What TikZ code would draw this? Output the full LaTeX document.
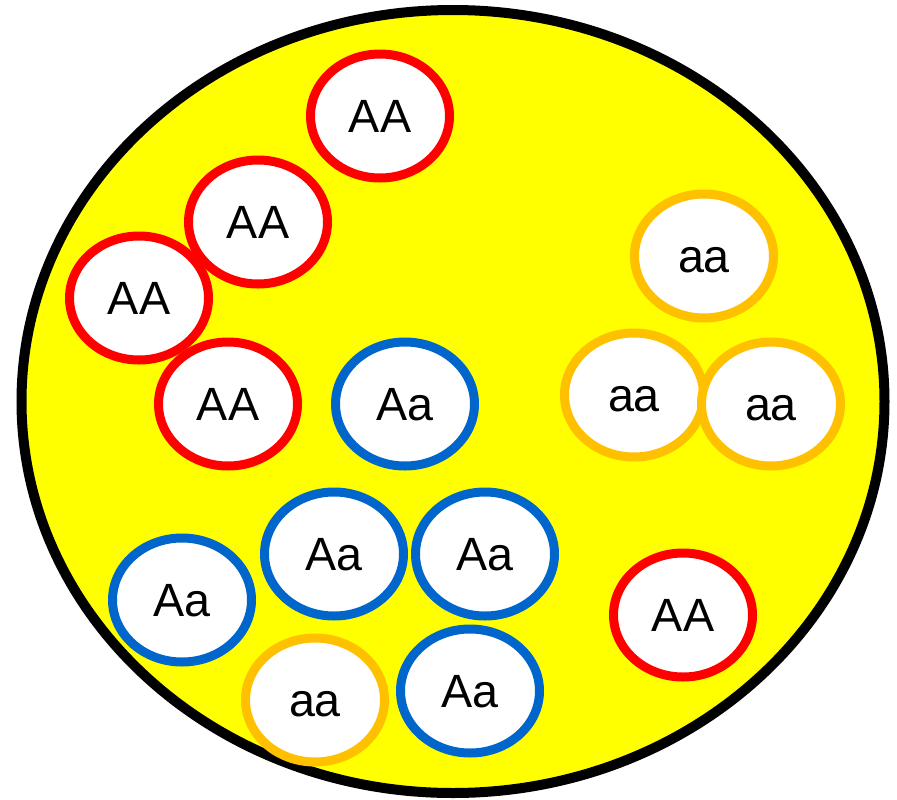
\documentclass[tikz,border=0pt]{standalone}
\usepackage{fontspec}
\setmainfont{Liberation Sans}
\usetikzlibrary{shapes.geometric}
\definecolor{cellred}{HTML}{FF0000}
\definecolor{cellblue}{HTML}{0066CC}
\definecolor{cellorange}{HTML}{FFC000}
\definecolor{pondyellow}{HTML}{FFFF00}
\tikzset{
  pool/.style={ellipse, draw=black, fill=pondyellow, line width=7.5pt,
    minimum width=647.25pt, minimum height=587.25pt, inner sep=0pt},
  cell/.style={ellipse, draw=#1, fill=white, line width=6.75pt,
    minimum width=104.25pt, minimum height=93pt, inner sep=0pt,
    text height=25pt, text depth=0pt,
    font=\fontsize{35}{40}\selectfont, text=black}
}
\begin{document}
\begin{tikzpicture}[x=0.75pt,y=-0.75pt]
\useasboundingbox (0,0) rectangle (897,800);
\node[pool] (pool) at (453,401.5) {};
% red AA
\node[cell=cellred] (r1) at (380,116) {AA};
\node[cell=cellred] (r2) at (258,222) {AA};
\node[cell=cellred] (r3) at (139,298) {AA};
\node[cell=cellred] (r4) at (228,404) {AA};
\node[cell=cellred] (r5) at (683,615) {AA};
% blue Aa
\node[cell=cellblue] (b1) at (405,404) {Aa};
\node[cell=cellblue] (b2) at (334,554) {Aa};
\node[cell=cellblue] (b3) at (485,554) {Aa};
\node[cell=cellblue] (b4) at (182,600) {Aa};
\node[cell=cellblue] (b5) at (470,691) {Aa};
% orange aa
\node[cell=cellorange] (o1) at (704,256) {aa};
\node[cell=cellorange] (o2) at (634,395) {aa};
\node[cell=cellorange] (o3) at (771,404) {aa};
\node[cell=cellorange] (o4) at (315,700) {aa};
\end{tikzpicture}
\end{document}
